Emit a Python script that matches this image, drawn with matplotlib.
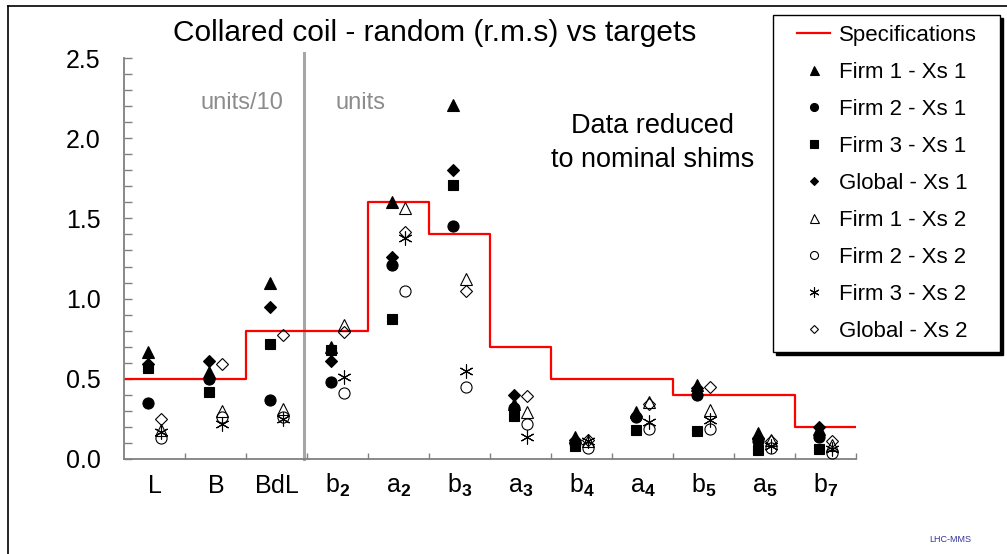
import matplotlib
matplotlib.use("Agg")
import matplotlib.pyplot as plt
from matplotlib.lines import Line2D
from matplotlib.patches import Rectangle
import numpy as np

plt.rcParams["font.family"] = ["Liberation Sans", "DejaVu Sans"]
plt.rcParams["mathtext.fontset"] = "custom"
plt.rcParams["mathtext.rm"] = "Liberation Sans"
plt.rcParams["mathtext.bf"] = "Liberation Sans:bold"
plt.rcParams["mathtext.it"] = "Liberation Sans:italic"

# Multipole / field-quality categories
categories = ["L", "B", "BdL", "b2", "a2", "b3", "a3", "b4", "a4", "b5", "a5", "b7"]
tick_labels = [r"$\mathrm{L}$", r"$\mathrm{B}$", r"$\mathrm{BdL}$",
               r"$\mathrm{b}_\mathbf{2}$", r"$\mathrm{a}_\mathbf{2}$", r"$\mathrm{b}_\mathbf{3}$",
               r"$\mathrm{a}_\mathbf{3}$", r"$\mathrm{b}_\mathbf{4}$", r"$\mathrm{a}_\mathbf{4}$",
               r"$\mathrm{b}_\mathbf{5}$", r"$\mathrm{a}_\mathbf{5}$", r"$\mathrm{b}_\mathbf{7}$"]

# Target r.m.s. values
specifications = [0.5, 0.5, 0.8, 0.8, 1.6, 1.4, 0.7, 0.5, 0.5, 0.4, 0.4, 0.2]

# Cross-section 1
firm1_xs1 = [0.67, 0.54, 1.10, 0.70, 1.60, 2.21, 0.34, 0.14, 0.29, 0.46, 0.16, 0.19]
firm2_xs1 = [0.35, 0.50, 0.37, 0.48, 1.21, 1.45, 0.32, 0.10, 0.26, 0.40, 0.11, 0.14]
firm3_xs1 = [0.57, 0.42, 0.72, 0.68, 0.87, 1.71, 0.27, 0.08, 0.18, 0.175, 0.055, 0.065]
global_xs1 = [0.59, 0.61, 0.95, 0.61, 1.26, 1.80, 0.40, 0.12, 0.27, 0.44, 0.13, 0.20]

# Cross-section 2
firm1_xs2 = [0.18, 0.30, 0.31, 0.835, 1.565, 1.12, 0.29, 0.11, 0.355, 0.305, 0.12, 0.09]
firm2_xs2 = [0.13, 0.26, 0.26, 0.41, 1.05, 0.45, 0.22, 0.07, 0.19, 0.19, 0.07, 0.04]
firm3_xs2 = [0.17, 0.22, 0.25, 0.51, 1.38, 0.55, 0.14, 0.11, 0.23, 0.245, 0.08, 0.06]
global_xs2 = [0.25, 0.59, 0.77, 0.79, 1.415, 1.05, 0.39, 0.12, 0.34, 0.45, 0.11, 0.11]

W, H = 1007, 554
fig = plt.figure(figsize=(W / 100, H / 100), dpi=100)
ax = fig.add_axes([124 / W, 1 - 459 / H, 732 / W, 401 / H])

n = len(categories)
x = np.arange(n)
edges = np.arange(n + 1) - 0.5

axis_grey = "#808080"
ax.set_xlim(-0.5, n - 0.5)
ax.set_ylim(0, 2.5)
for side in ("top", "right"):
    ax.spines[side].set_visible(False)
for side in ("left", "bottom"):
    ax.spines[side].set_color(axis_grey)
    ax.spines[side].set_linewidth(1.3)

ax.set_yticks(np.arange(0, 2.51, 0.5))
ax.set_yticks(np.arange(0, 2.51, 0.1), minor=True)
ax.set_yticklabels([f"{v:.1f}" for v in np.arange(0, 2.51, 0.5)])
ax.tick_params(axis="y", which="both", direction="in", length=6, width=1,
               color=axis_grey, pad=17, labelsize=18)
ax.set_xticks(edges[1:])
ax.set_xticklabels([])
ax.tick_params(axis="x", which="both", direction="in", length=4, width=1,
               color=axis_grey)

for xi, lab in zip(x, tick_labels):
    ax.text(xi, -0.21, lab, ha="center", va="baseline", fontsize=18, clip_on=False)

# Specification staircase
spec_line, = ax.step(edges, specifications + [specifications[-1]], where="post",
                     color="red", lw=1.6, zorder=2)

# Separator between the integral quantities and the harmonics
ax.plot([2.45, 2.45], [0, 2.53], color="#a6a6a6", lw=2.2, clip_on=False, zorder=1)
ax.text(1.43, 2.22, "units/10", color="#8c8c8c", fontsize=17, ha="center", va="center")
ax.text(3.37, 2.22, "units", color="#8c8c8c", fontsize=17, ha="center", va="center")

ax.text(8.16, 1.97, "Data reduced\nto nominal shims", fontsize=19.5, ha="center",
        va="center", linespacing=1.42)

off = 0.1
series = [
    (firm1_xs1, "^", 9, True, "Firm 1 - Xs 1"),
    (firm2_xs1, "o", 8, True, "Firm 2 - Xs 1"),
    (firm3_xs1, "s", 7.2, True, "Firm 3 - Xs 1"),
    (global_xs1, "D", 6.3, True, "Global - Xs 1"),
    (firm1_xs2, "^", 9, False, "Firm 1 - Xs 2"),
    (firm2_xs2, "o", 8, False, "Firm 2 - Xs 2"),
    (firm3_xs2, (6, 2, 0), 10, False, "Firm 3 - Xs 2"),
    (global_xs2, "D", 6, False, "Global - Xs 2"),
]
handles = [spec_line]
labels = ["Specifications"]
for vals, mk, ms, filled, lab in series:
    xs = x - off if filled else x + off
    h, = ax.plot(xs, vals, linestyle="none", marker=mk, markersize=ms,
                 markerfacecolor="black" if filled else "none",
                 markeredgecolor="black", markeredgewidth=0.8, zorder=3)
    handles.append(h)
    labels.append(lab)

fig.text(435 / W, 1 - 33 / H, "Collared coil - random (r.m.s) vs targets",
         fontsize=21.5, ha="center", va="center")

# Legend box with solid drop shadow
bx0, by0, bx1, by1 = 773, 15, 1000, 352
fig.patches.append(Rectangle((bx0 / W + 3 / W, 1 - by1 / H - 3 / H), (bx1 - bx0) / W,
                             (by1 - by0) / H, transform=fig.transFigure,
                             facecolor="black", edgecolor="black", zorder=5))
fig.patches.append(Rectangle((bx0 / W, 1 - by1 / H), (bx1 - bx0) / W,
                             (by1 - by0) / H, transform=fig.transFigure,
                             facecolor="white", edgecolor="black", lw=1, zorder=6))
leg = fig.legend(handles, labels, loc="upper left",
                 bbox_to_anchor=(797 / W, 1 - 25 / H), frameon=False,
                 fontsize=16, labelspacing=0.72, handlelength=1.5,
                 handletextpad=0.4, borderpad=0, borderaxespad=0,
                 markerscale=0.72)
leg.set_zorder(7)

fig.text(950 / W, 1 - 540 / H, "LHC-MMS", color="#333399", fontsize=6.5,
         ha="center", va="center")

# Slide frame
fig.add_artist(Line2D([8 / W, 8 / W], [0, 1 - 6 / H], transform=fig.transFigure,
                      color="black", lw=1.2))
fig.add_artist(Line2D([8 / W, 1], [1 - 6 / H, 1 - 6 / H], transform=fig.transFigure,
                      color="black", lw=1.2))

fig.savefig("out.png", dpi=100)
